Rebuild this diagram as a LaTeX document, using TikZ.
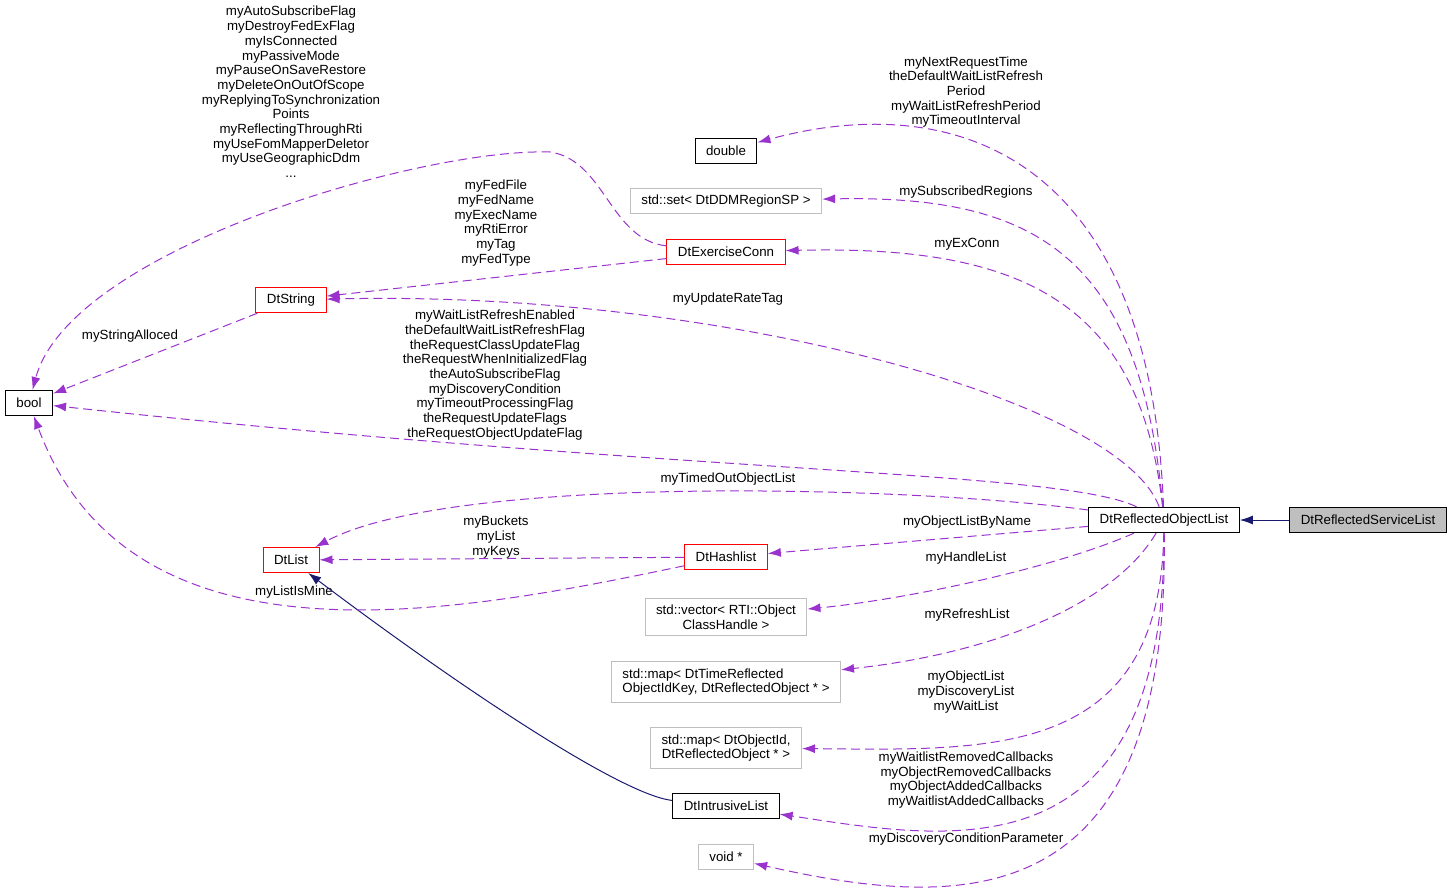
\documentclass[tikz,border=0pt]{standalone}
\usepackage{fontspec}
\setmainfont{Liberation Sans}
\usetikzlibrary{arrows.meta}
\definecolor{memberc}{HTML}{9A32CD}
\definecolor{inheritc}{HTML}{191970}
\definecolor{extc}{HTML}{BFBFBF}
\definecolor{redc}{HTML}{FF0000}
\tikzset{
	cls/.style={draw=black, line width=1pt, fill=white, inner xsep=11pt, inner ysep=6.5pt, minimum height=25pt, align=center},
	redcls/.style={cls, draw=redc},
	extcls/.style={cls, draw=extc},
	lbl/.style={inner sep=0pt, align=center},
	member/.style={memberc, line width=1pt, dash pattern=on 9pt off 5pt, -{Latex[length=13pt, width=9pt]}},
	inherit/.style={inheritc, line width=1pt, -{Latex[length=13pt, width=9pt]}}
}
\begin{document}
\begin{tikzpicture}[x=1pt, y=-1pt, font=\fontsize{13.3}{14.7}\selectfont]
		\useasboundingbox (0, 0) rectangle (1453, 896);
		% classes
		\node[cls, fill=extc](rsl)at(1368, 520){DtReflectedServiceList};
		\node[cls](rol)at(1164, 520){DtReflectedObjectList};
		\node[cls](dtbool)at(29, 403){bool};
		\node[cls](dbl)at(726, 151){double};
		\node[extcls](set)at(726, 201){std::set< DtDDMRegionSP >};
		\node[redcls](exconn)at(726, 252){DtExerciseConn};
		\node[redcls](dtstring)at(291, 300){DtString};
		\node[redcls](dtlist)at(291, 560){DtList};
		\node[redcls](hashlist)at(726, 557){DtHashlist};
		\node[extcls](vec)at(726, 617){std::vector< RTI::Object\\ClassHandle >};
		\node[extcls, align=left](tmap)at(726, 682){std::map< DtTimeReflected\\ObjectIdKey, DtReflectedObject * >};
		\node[extcls](omap)at(726, 748){std::map< DtObjectId,\\DtReflectedObject * >};
		\node[cls](ilist)at(726, 806){DtIntrusiveList};
		\node[extcls](voidp)at(726, 857){void *};
		% labels
		\node[lbl](lDbl)at(966, 92){myNextRequestTime\\theDefaultWaitListRefresh\\Period\\myWaitListRefreshPeriod\\myTimeoutInterval};
		\node[lbl](lSet)at(966, 192){mySubscribedRegions};
		\node[lbl](lExConn)at(967, 244){myExConn};
		\node[lbl](lFed)at(496, 223){myFedFile\\myFedName\\myExecName\\myRtiError\\myTag\\myFedType};
		\node[lbl](lConnBool)at(291, 92){myAutoSubscribeFlag\\myDestroyFedExFlag\\myIsConnected\\myPassiveMode\\myPauseOnSaveRestore\\myDeleteOnOutOfScope\\myReplyingToSynchronization\\Points\\myReflectingThroughRti\\myUseFomMapperDeletor\\myUseGeographicDdm\\...};
		\node[lbl](lAlloc)at(130, 336){myStringAlloced};
		\node[lbl](lRolBool)at(495, 375){myWaitListRefreshEnabled\\theDefaultWaitListRefreshFlag\\theRequestClassUpdateFlag\\theRequestWhenInitializedFlag\\theAutoSubscribeFlag\\myDiscoveryCondition\\myTimeoutProcessingFlag\\theRequestUpdateFlags\\theRequestObjectUpdateFlag};
		\node[lbl](lRate)at(728, 299){myUpdateRateTag};
		\node[lbl](lTimed)at(728, 479){myTimedOutObjectList};
		\node[lbl](lByName)at(967, 522){myObjectListByName};
		\node[lbl](lBuckets)at(496, 537){myBuckets\\myList\\myKeys};
		\node[lbl](lMine)at(294, 592){myListIsMine};
		\node[lbl](lHandle)at(966, 558){myHandleList};
		\node[lbl](lRefresh)at(967, 615){myRefreshList};
		\node[lbl](lObj)at(966, 692){myObjectList\\myDiscoveryList\\myWaitList};
		\node[lbl](lCb)at(966, 780){myWaitlistRemovedCallbacks\\myObjectRemovedCallbacks\\myObjectAddedCallbacks\\myWaitlistAddedCallbacks};
		\node[lbl](lParam)at(966, 839){myDiscoveryConditionParameter};
		% inheritance
		\draw[inherit](rsl)--(rol);
		\draw[inherit](ilist) .. controls (620, 795) and (450, 680) .. (dtlist);
		% members
		\draw[member](rol) .. controls (1150, 150) and (950, 90) .. (dbl);
		\draw[member](rol) .. controls (1140, 250) and (1030, 195) .. (set);
		\draw[member](rol) .. controls (1140, 300) and (1020, 245) .. (exconn);
		\draw[member](rol) .. controls (1120, 400) and (720, 290) .. (dtstring);
		\draw[member](rol) .. controls (1060, 470) and (700, 475) .. (dtbool);
		\draw[member](rol) .. controls (900, 485) and (450, 475) .. (dtlist);
		\draw[member](rol)--(hashlist);
		\draw[member](rol) .. controls (1050, 570) and (900, 600) .. (vec);
		\draw[member](rol) .. controls (1110, 610) and (980, 655) .. (tmap);
		\draw[member](rol) .. controls (1160, 760) and (990, 750) .. (omap);
		\draw[member](rol) .. controls (1165, 880) and (950, 840) .. (ilist);
		\draw[member](rol) .. controls (1170, 920) and (960, 910) .. (voidp);
		\draw[member](exconn)--(dtstring);
		\draw[member](exconn) .. controls (610, 240) and (605, 160) .. (550, 152) .. controls (420, 148) and (70, 250) .. (dtbool);
		\draw[member](dtstring)--(dtbool);
		\draw[member](hashlist)--(dtlist);
		\draw[member](hashlist) .. controls (450, 615) and (130, 675) .. (dtbool);
	\end{tikzpicture}
\end{document}
